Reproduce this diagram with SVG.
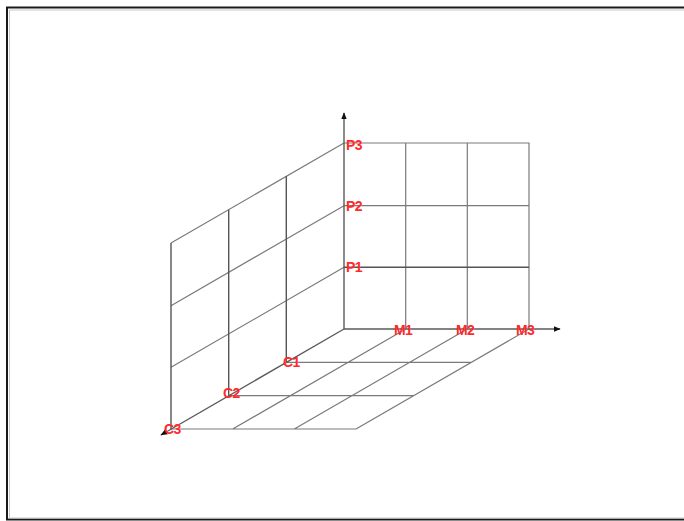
<svg xmlns="http://www.w3.org/2000/svg" width="684" height="521" viewBox="0 0 684 521">
  <style>
    .grid { stroke: #7a7a7a; stroke-width: 1.2; fill: none; }
    .dark { stroke: #555; stroke-width: 1.4; fill: none; }
    .axis { stroke: #5a5a5a; stroke-width: 1.4; fill: none; }
    .lbl { font-family: "Liberation Sans", Arial, sans-serif; font-size: 14px; font-weight: bold; fill: #ff2a2a; letter-spacing: -0.6px; }
  </style>
  <defs>
    <marker id="arr" viewBox="0 0 10 10" refX="9" refY="5" markerWidth="7" markerHeight="7" markerUnits="userSpaceOnUse" orient="auto">
      <path d="M0,1 L10,5 L0,9 Z" fill="#111"/>
    </marker>
  </defs>
  <rect x="0" y="0" width="684" height="521" fill="#fff"/>
  <rect x="7" y="7.5" width="700" height="512" fill="none" stroke="#1a1a1a" stroke-width="2"/>
  <rect x="9.5" y="10" width="700" height="508" fill="none" stroke="#c8c8c8" stroke-width="1"/>

  <g id="back-plane">
    <path class="grid" d="M344,143 H529 V329 M405.7,143 V329 M467.3,143 V329 M344,205.7 H529"/>
    <path class="dark" d="M344,267.3 H529"/>
  </g>
  <g id="left-plane">
    <path class="grid" d="M344,143 L171,243 M344,205.7 L171,305.7 M344,267.3 L171,367.3"/>
    <path class="dark" d="M286.3,176.3 V362.3 M228.7,209.7 V395.7 M171,243 V429"/>
  </g>
  <g id="floor-plane">
    <path class="grid" d="M286.3,362.3 H471.3 M228.7,395.7 H413.7 M171,429 H356 M405.7,329 L232.7,429 M467.3,329 L294.3,429 M529,329 L356,429"/>
  </g>

  <g id="connectors">
    <line class="axis" x1="344" y1="329" x2="344" y2="113" marker-end="url(#arr)"/>
    <line class="axis" x1="344" y1="329" x2="560" y2="329" marker-end="url(#arr)"/>
    <line class="axis" x1="344" y1="329" x2="161" y2="435" marker-end="url(#arr)"/>
  </g>

  <g id="label-P3"><text class="lbl" x="346" y="150">P3</text></g>
  <g id="label-P2"><text class="lbl" x="346" y="211">P2</text></g>
  <g id="label-P1"><text class="lbl" x="346" y="272">P1</text></g>
  <g id="label-M1"><text class="lbl" x="394" y="335">M1</text></g>
  <g id="label-M2"><text class="lbl" x="456" y="335">M2</text></g>
  <g id="label-M3"><text class="lbl" x="516" y="335">M3</text></g>
  <g id="label-C1"><text class="lbl" x="283" y="367">C1</text></g>
  <g id="label-C2"><text class="lbl" x="223" y="398">C2</text></g>
  <g id="label-C3"><text class="lbl" x="164" y="434">C3</text></g>
</svg>
